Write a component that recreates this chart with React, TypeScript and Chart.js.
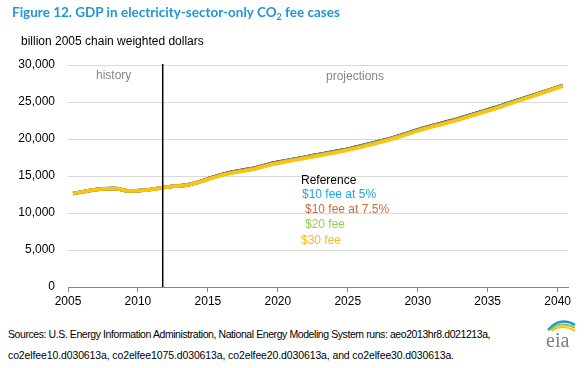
import React, { useEffect, useRef } from "react";
import { Chart, registerables } from "chart.js";

Chart.register(...registerables);

const YEARS = [
  2005, 2006, 2007, 2008, 2009, 2010, 2011, 2012, 2013, 2014, 2015, 2016,
  2017, 2018, 2019, 2020, 2021, 2022, 2023, 2024, 2025, 2026, 2027, 2028,
  2029, 2030, 2031, 2032, 2033, 2034, 2035, 2036, 2037, 2038, 2039, 2040,
];

const HISTORY = [12638, 12976, 13254, 13312, 12988, 13063, 13299];

const REFERENCE = [
  ...HISTORY,
  13593, 13740, 14200, 14830, 15370, 15740, 16090, 16590, 16990, 17350,
  17700, 18050, 18400, 18800, 19260, 19740, 20260, 20860, 21460, 21960,
  22460, 23010, 23580, 24150, 24760, 25380, 25990, 26610, 27230,
];
const FEE10_5 = [
  ...HISTORY,
  13593, 13735, 14190, 14820, 15360, 15730, 16080, 16580, 16980, 17340,
  17690, 18040, 18390, 18790, 19250, 19730, 20250, 20850, 21450, 21950,
  22450, 23000, 23560, 24130, 24740, 25360, 25970, 26590, 27210,
];
const FEE10_75 = [
  ...HISTORY,
  13593, 13730, 14180, 14800, 15330, 15700, 16050, 16550, 16950, 17310,
  17660, 18010, 18360, 18760, 19220, 19700, 20220, 20820, 21420, 21920,
  22420, 22970, 23530, 24100, 24700, 25310, 25920, 26540, 27190,
];
const FEE20 = [
  ...HISTORY,
  13590, 13725, 14170, 14790, 15300, 15650, 16000, 16500, 16900, 17250,
  17600, 17950, 18300, 18700, 19150, 19630, 20150, 20750, 21350, 21850,
  22350, 22900, 23470, 24050, 24670, 25300, 25920, 26560, 27180,
];
const FEE30 = [
  ...HISTORY,
  13590, 13720, 14150, 14750, 15250, 15600, 15950, 16450, 16850, 17200,
  17550, 17900, 18250, 18650, 19100, 19580, 20100, 20700, 21300, 21800,
  22300, 22850, 23420, 24000, 24620, 25250, 25880, 26520, 27170,
];

const SERIES_NAMES = ["Reference", "$10 fee at 5%", "$10 fee at 7.5%", "$20 fee", "$30 fee"];
const SERIES_VALUES = [REFERENCE, FEE10_5, FEE10_75, FEE20, FEE30];
const SERIES_COLORS = ["#000000", "#1aa6ea", "#c8703c", "#8dc63f", "#ffc20e"];
const LABEL_COLORS = ["#000000", "#1aa6ea", "#c8703c", "#92d050", "#ffb81c"];

const X_TICKS = [2005, 2010, 2015, 2020, 2025, 2030, 2035, 2040];
const Y_TICKS = [0, 5000, 10000, 15000, 20000, 25000, 30000];
const HISTORY_SPLIT = 2011.77;

const TITLE = "Figure 12. GDP in electricity-sector-only CO";
const TITLE_SUB = "2";
const TITLE_END = " fee cases";
const UNITS = "billion 2005 chain weighted dollars";
const SOURCE_1 =
  "Sources: U.S. Energy Information Administration, National Energy Modeling System runs: aeo2013hr8.d021213a,";
const SOURCE_2 =
  "co2elfee10.d030613a, co2elfee1075.d030613a, co2elfee20.d030613a, and co2elfee30.d030613a.";

const FONT = "'Liberation Sans', Arial, sans-serif";

const splitPlugin = {
  id: "split",
  afterDatasetsDraw(chart: any) {
    const { ctx, chartArea, scales } = chart;
    const x = scales.x.getPixelForValue(HISTORY_SPLIT);
    ctx.save();
    ctx.strokeStyle = "#000";
    ctx.lineWidth = 1.5;
    ctx.beginPath();
    ctx.moveTo(x, chartArea.top - 1);
    ctx.lineTo(x, chartArea.bottom);
    ctx.stroke();
    ctx.restore();
  },
};

export default function App() {
  const ref = useRef<HTMLCanvasElement>(null);

  useEffect(() => {
    document.body.style.margin = "0";
    const chart = new Chart(ref.current as HTMLCanvasElement, {
      type: "line",
      data: {
        datasets: SERIES_NAMES.map((name, i) => ({
          label: name,
          data: YEARS.map((yr, j) => ({ x: yr, y: SERIES_VALUES[i][j] })),
          borderColor: SERIES_COLORS[i],
          backgroundColor: SERIES_COLORS[i],
          borderWidth: 3.5,
          pointRadius: 0,
          cubicInterpolationMode: "monotone" as const,
          xAxisID: "xData",
          yAxisID: "y",
          order: SERIES_NAMES.length - 1 - i,
        })),
      },
      options: {
        responsive: false,
        animation: false,
        events: [],
        layout: { padding: { top: 65, right: 17, left: 0, bottom: 0 } },
        plugins: {
          legend: { display: false },
          tooltip: { enabled: false },
        },
        scales: {
          x: {
            type: "linear",
            position: "bottom",
            min: 2005,
            max: 2040.74,
            afterBuildTicks: (s: any) => {
              s.ticks = X_TICKS.map((v) => ({ value: v }));
            },
            afterFit: (s: any) => {
              s.height = 33;
            },
            ticks: {
              autoSkip: false,
              maxRotation: 0,
              padding: 2,
              color: "#000",
              font: { family: FONT, size: 12 },
              callback: (v: any) => String(v),
            },
            grid: {
              drawOnChartArea: false,
              drawTicks: true,
              tickLength: 5,
              tickColor: "#868686",
            },
            border: { display: true, color: "#868686", width: 1 },
          },
          xData: {
            type: "linear",
            display: false,
            min: 2004.64,
            max: 2040.38,
          },
          y: {
            type: "linear",
            min: 0,
            max: 30000,
            afterBuildTicks: (s: any) => {
              s.ticks = Y_TICKS.map((v) => ({ value: v }));
            },
            afterFit: (s: any) => {
              s.width = 68;
            },
            ticks: {
              padding: 13,
              color: "#000",
              font: { family: FONT, size: 12 },
              callback: (v: any) => Number(v).toLocaleString("en-US"),
            },
            grid: { color: "#d9d9d9", drawTicks: false, lineWidth: 1 },
            border: { display: false },
          },
        },
      },
      plugins: [splitPlugin],
    });
    return () => chart.destroy();
  }, []);

  const legendPos = [
    { left: 301, top: 180 },
    { left: 302, top: 194 },
    { left: 305, top: 209 },
    { left: 305, top: 224 },
    { left: 301, top: 240 },
  ];

  const textAt = (left: number, cy: number, size: number, lh: number): React.CSSProperties => ({
    position: "absolute",
    left,
    top: cy - lh / 2,
    lineHeight: lh + "px",
    fontSize: size,
    fontFamily: FONT,
    whiteSpace: "nowrap",
  });

  return (
    <div style={{ position: "relative", width: 585, height: 368, background: "#fff", overflow: "hidden" }}>
      <canvas ref={ref} width={585} height={320} style={{ position: "absolute", left: 0, top: 0 }} />
      <div
        style={{
          ...textAt(12, 12, 13.5, 18),
          fontFamily: "Lato, 'Open Sans', sans-serif",
          fontWeight: 700,
          color: "#1f96d6",
        }}
      >
        {TITLE}
        <sub style={{ fontSize: 9, verticalAlign: "-3px", lineHeight: 0 }}>{TITLE_SUB}</sub>
        {TITLE_END}
      </div>
      <div style={{ ...textAt(21, 41, 12, 14), color: "#000" }}>{UNITS}</div>
      <div style={{ ...textAt(96, 75, 12, 14), color: "#85858f" }}>history</div>
      <div style={{ ...textAt(326, 76, 12, 14), color: "#85858f" }}>projections</div>
      {SERIES_NAMES.map((name, i) => (
        <div key={name} style={{ ...textAt(legendPos[i].left, legendPos[i].top, 12, 14), color: LABEL_COLORS[i] }}>
          {name}
        </div>
      ))}
      <div style={{ ...textAt(8, 334, 10.5, 14), color: "#000", letterSpacing: "-0.42px" }}>{SOURCE_1}</div>
      <div style={{ ...textAt(8, 355, 10.5, 14), color: "#000", letterSpacing: "-0.12px" }}>{SOURCE_2}</div>
      <svg width={40} height={40} style={{ position: "absolute", left: 540, top: 312 }}>
        <path d="M8 18 Q20 4 35 13" stroke="#1f96d6" strokeWidth={2.4} fill="none" />
        <path d="M10 18 Q21 8 35 16" stroke="#8dc63f" strokeWidth={2} fill="none" />
        <path d="M12 19 Q22 11 35 19" stroke="#ffc20e" strokeWidth={1.8} fill="none" />
        <text x={6} y={35} fontFamily="'Liberation Serif', serif" fontSize={20} fill="#7f7f7f">
          eia
        </text>
      </svg>
    </div>
  );
}
